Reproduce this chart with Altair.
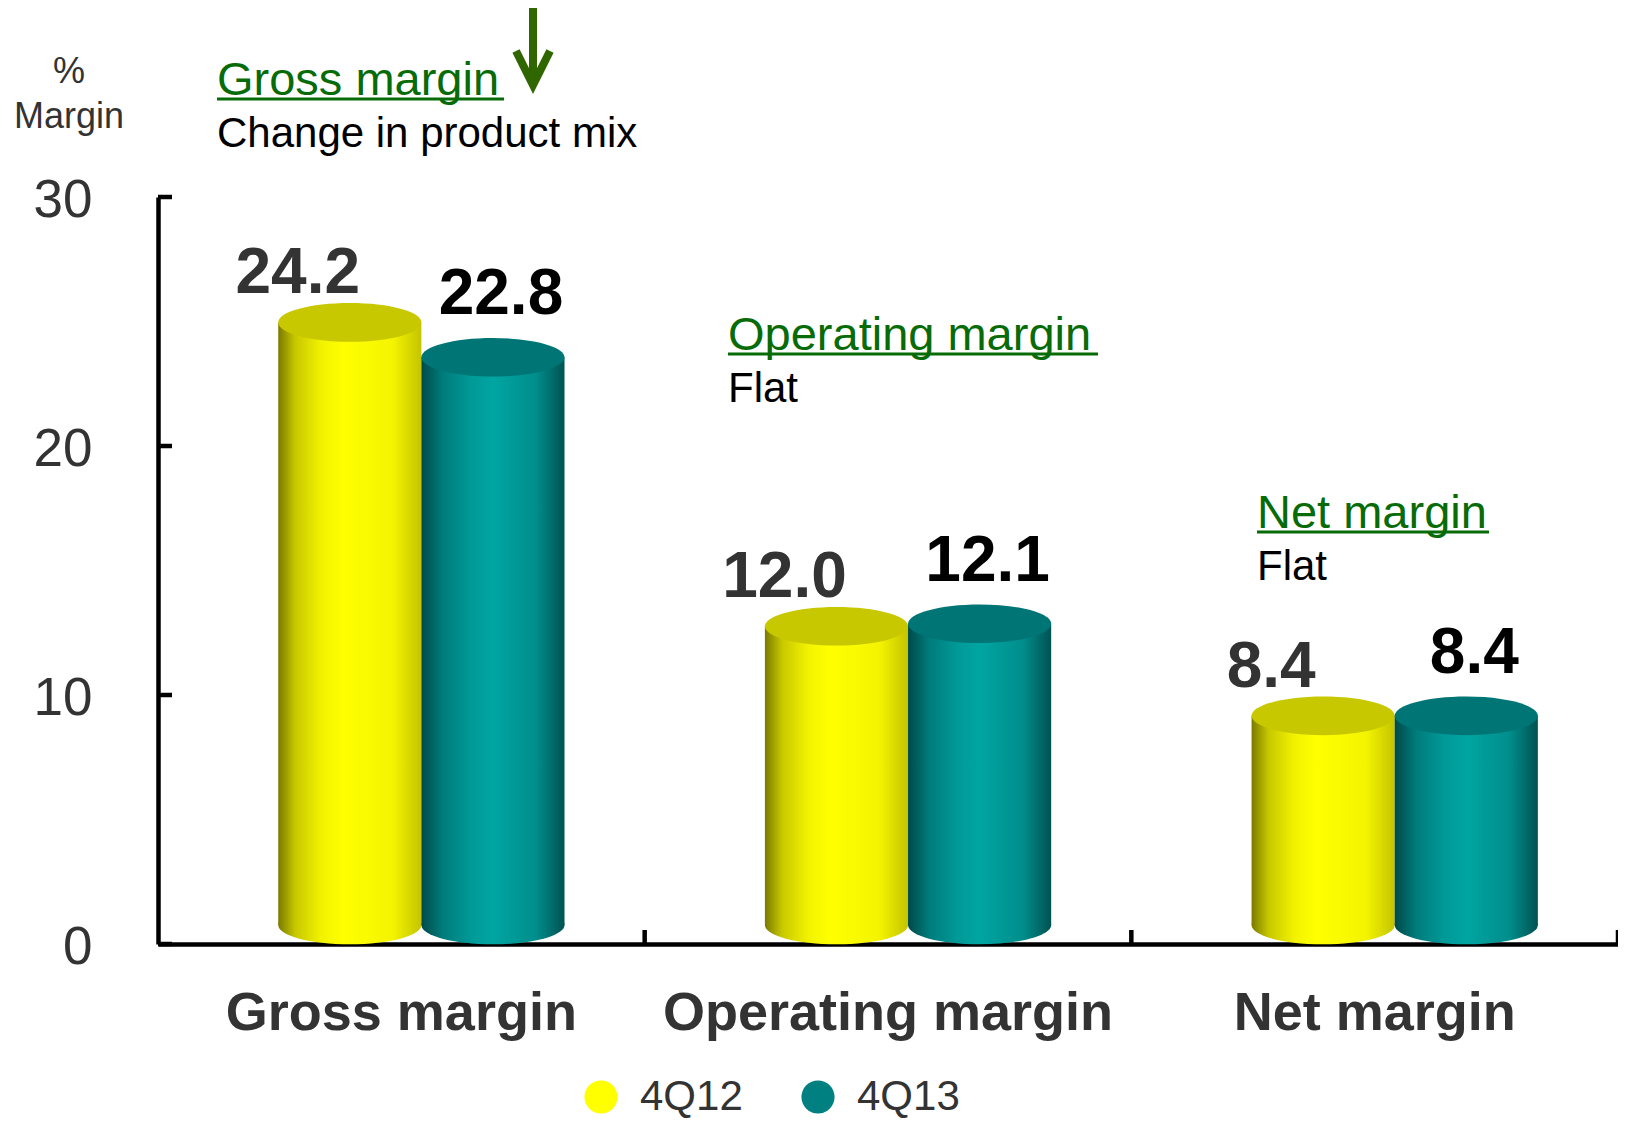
import altair as alt
import pandas as pd

# ---------------- data ----------------
categories = ["Gross margin", "Operating margin", "Net margin"]
series = ["4Q12", "4Q13"]
values_4q12 = [24.2, 12.0, 8.4]
values_4q13 = [22.8, 12.1, 8.4]
y_tick_values = [0, 10, 20, 30]
note_titles = ["Gross margin", "Operating margin", "Net margin"]
note_texts = ["Change in product mix", "Flat", "Flat"]
unit_lines = ["%", "Margin"]
legend_colors = ["#FFFF00", "#008080"]

df = pd.DataFrame({
    "category": categories * 2,
    "series": [series[0]] * len(categories) + [series[1]] * len(categories),
    "value": values_4q12 + values_4q13,
})
df["base"] = 0.0
ticks_df = pd.DataFrame({"t": y_tick_values})
cat_df = pd.DataFrame({"category": categories})
one = pd.DataFrame({"k": [0]})

# ---------------- styling ----------------
W, H = 1460, 747
FONT = "Liberation Sans"
GREEN = "#076B07"
ARROW = "#2F6600"
RY = 19
BAR_W = W / 3 / 3.4
ELL = "M-1,0A1,0.27,0,0,1,1,0A1,0.27,0,0,1,-1,0Z"
ELL_SIZE = BAR_W ** 2


def grad(stops):
    return alt.LinearGradient(
        gradient="linear", x1=0, x2=1, y1=0, y2=0,
        stops=[alt.GradientStop(color=c, offset=o) for o, c in stops],
    )


side = {
    "4Q12": grad([(0, "#7A7A00"), (0.12, "#C8C800"), (0.3, "#F2F200"),
                  (0.45, "#FFFF00"), (0.8, "#F4F400"), (1, "#C4C400")]),
    "4Q13": grad([(0, "#004A4A"), (0.15, "#007C7C"), (0.35, "#009A98"),
                  (0.5, "#00A5A2"), (0.8, "#008E8C"), (1, "#005252")]),
}
cap = {"4Q12": "#C8C800", "4Q13": "#007575"}
label_color = {"4Q12": "#333333", "4Q13": "#000000"}
label_dx = {"4Q12": -52, "4Q13": 8}
label_dy = {"4Q12": -48, "4Q13": -62}

xsc = alt.Scale(domain=categories, paddingInner=0, paddingOuter=0)
ysc = alt.Scale(domain=[0, 30], nice=False)
xosc = alt.Scale(domain=series, paddingInner=0, paddingOuter=0.7, align=0.6)

x_axis = alt.Axis(labelAngle=0, labelFont=FONT, labelFontSize=54,
                  labelFontWeight="bold", labelColor="#333333", labelPadding=42,
                  ticks=False, tickSize=0, domainColor="black", domainWidth=4.5,
                  labelLimit=0, grid=False, bandPosition=0.5)
y_axis = alt.Axis(values=y_tick_values, labelFont=FONT, labelFontSize=53,
                  labelColor="#333333", labelPadding=66, ticks=False, tickSize=0,
                  domainColor="black", domainWidth=4.5, grid=False, labelOffset=3)

XN = alt.X("category:N", scale=xsc, title=None)
XO = alt.XOffset("series:N", scale=xosc)
YN = alt.Y("value:Q", scale=ysc, title=None)

layers = []

# axes + legend carrier (invisible marks)
layers.append(
    alt.Chart(df).mark_point(opacity=0, filled=True, size=0).encode(
        x=alt.X("category:N", scale=xsc, axis=x_axis, title=None),
        xOffset=XO,
        y=alt.Y("value:Q", scale=ysc, axis=y_axis, title=None),
        color=alt.Color(
            "series:N",
            scale=alt.Scale(domain=series, range=legend_colors),
            legend=alt.Legend(
                title=None, orient="none", legendX=422, legendY=879,
                direction="horizontal", symbolType="circle", symbolSize=1100,
                symbolOpacity=1, symbolStrokeWidth=0, labelFont=FONT,
                labelFontSize=42, labelColor="#333333", labelOffset=18,
                columnPadding=54, padding=0,
            ),
        ),
    )
)

for s in series:
    sub = alt.Chart(df).transform_filter(alt.datum.series == s)
    # bottom rounded end
    layers.append(
        sub.mark_point(shape=ELL, size=ELL_SIZE, filled=True, fill=side[s],
                       opacity=1, strokeWidth=0, yOffset=-RY).encode(
            x=XN, xOffset=XO, y=alt.Y("base:Q", scale=ysc, title=None))
    )
    # cylinder body
    layers.append(
        sub.mark_bar(fill=side[s], strokeWidth=0, yOffset=-RY, y2Offset=-RY).encode(
            x=XN, xOffset=XO, y=YN, y2="base:Q")
    )
    # top cap
    layers.append(
        sub.mark_point(shape=ELL, size=ELL_SIZE, filled=True, fill=cap[s],
                       opacity=1, strokeWidth=0, yOffset=-RY).encode(
            x=XN, xOffset=XO, y=YN)
    )
    # value labels
    layers.append(
        sub.mark_text(font=FONT, fontSize=64, fontWeight="bold", color=label_color[s],
                      dx=label_dx[s], dy=label_dy[s], baseline="alphabetic",
                      align="center").encode(
            x=XN, xOffset=XO, y=YN, text=alt.Text("value:Q", format=".1f"))
    )

# inward y ticks
layers.append(
    alt.Chart(ticks_df).mark_rule(color="black", strokeWidth=4.5).encode(
        y=alt.Y("t:Q", scale=ysc, title=None), x=alt.value(0), x2=alt.value(14))
)
# upward x ticks at category boundaries
layers.append(
    alt.Chart(cat_df).mark_rule(color="black", strokeWidth=4.5).encode(
        x=alt.X("category:N", scale=xsc, title=None, bandPosition=1),
        y=alt.value(H), y2=alt.value(H - 14))
)


def text_at(txt, x, y, size, color, align="left"):
    return alt.Chart(one).mark_text(text=txt, font=FONT, fontSize=size, color=color,
                                    align=align, baseline="alphabetic").encode(
        x=alt.value(x), y=alt.value(y))


def hline(x1, x2, y, color, width):
    return alt.Chart(one).mark_rule(color=color, strokeWidth=width).encode(
        x=alt.value(x1), x2=alt.value(x2), y=alt.value(y))


# unit label
layers.append(text_at(unit_lines[0], -89, -114, 36, "#333333", align="center"))
layers.append(text_at(unit_lines[1], -89, -69, 36, "#333333", align="center"))

# annotations
note_pos = [(59, -102, 287), (570, 153, 370), (1099, 331, 232)]
for (x, y, w), t, n in zip(note_pos, note_titles, note_texts):
    layers.append(text_at(t, x, y, 47, GREEN))
    layers.append(hline(x, x + w, y + 4, GREEN, 3))
    layers.append(text_at(n, x, y + 52, 42, "#000000"))

# down arrow
layers.append(
    alt.Chart(one).mark_rule(color=ARROW, strokeWidth=8).encode(
        x=alt.value(375), y=alt.value(-192), y2=alt.value(-116))
)
layers.append(
    alt.Chart(one).mark_point(shape="M-1,-1L0,1L1,-1", size=1156, filled=False,
                              stroke=ARROW, strokeWidth=8, opacity=1,
                              strokeJoin="miter").encode(
        x=alt.value(375), y=alt.value(-129))
)

chart = alt.layer(*layers).properties(
    width=W, height=H,
    padding={"left": 150, "top": 189, "right": 0, "bottom": 176},
    autosize=alt.AutoSizeParams(type="none"),
    background="white",
).configure_view(stroke=None).configure_axis(grid=False)

chart.save("out.html", embed_options={"renderer": "svg", "actions": False})
